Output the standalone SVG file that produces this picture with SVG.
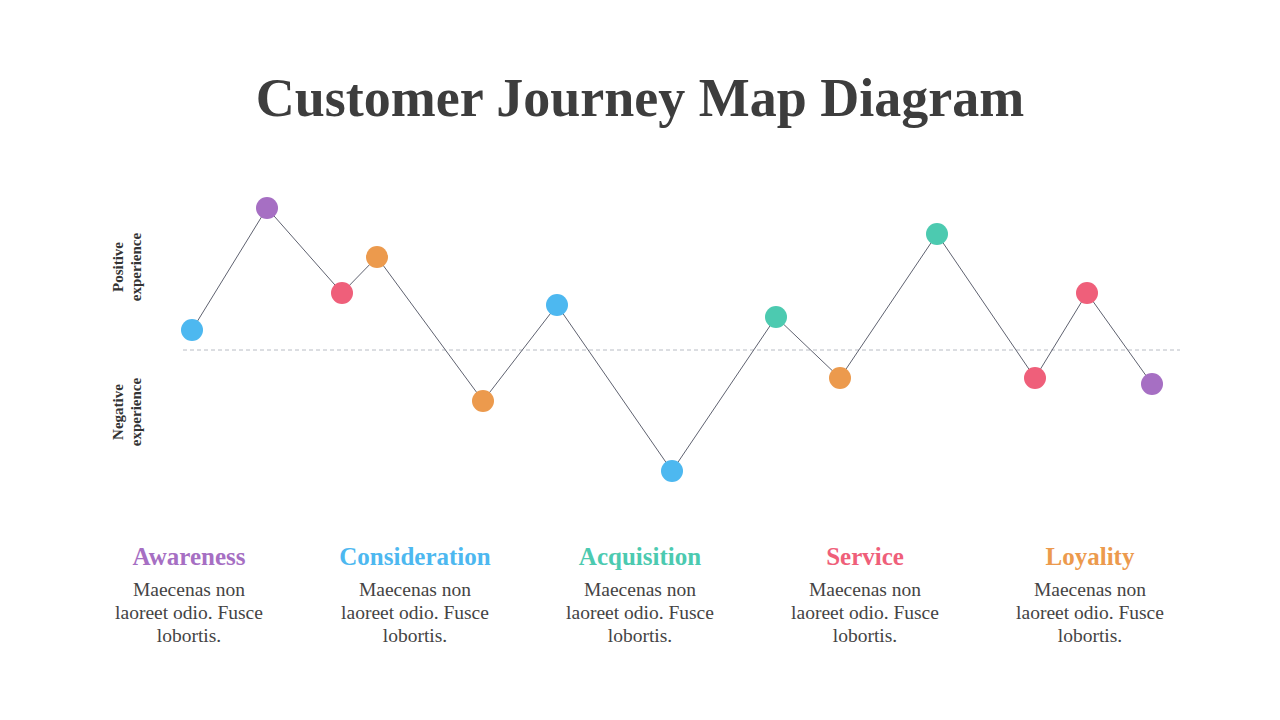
<svg xmlns="http://www.w3.org/2000/svg" width="1280" height="720" viewBox="0 0 1280 720">
<style>
.t{font-family:"Liberation Serif","DejaVu Serif",serif;}
.h{font-size:25px;font-weight:bold;text-anchor:middle}
.b{font-size:19.5px;fill:#444;text-anchor:middle}
.ax{font-size:15px;font-weight:bold;fill:#333;text-anchor:middle}
</style>
<rect width="1280" height="720" fill="#fff"/>
<text class="t" x="640" y="116" font-size="54" font-weight="bold" fill="#3d3d3d" text-anchor="middle">Customer Journey Map Diagram</text>
<g id="axis-labels">
<text class="t ax" transform="translate(123,267) rotate(-90)"><tspan x="0" y="0">Positive</tspan><tspan x="0" y="18">experience</tspan></text>
<text class="t ax" transform="translate(123,412) rotate(-90)"><tspan x="0" y="0">Negative</tspan><tspan x="0" y="18">experience</tspan></text>
</g>
<g id="connectors">
<line x1="183" y1="350" x2="1180" y2="350" stroke="#b8bcc4" stroke-width="1" stroke-dasharray="4,3"/>
<polyline points="192,330 267,208 342,293 377,257 483,401 557,305 672,471 776,317 840,378 937,234 1035,378 1087,293 1152,384" fill="none" stroke="#5f6270" stroke-width="1"/>
</g>
<g id="points">
<circle cx="192" cy="330" r="11" fill="#4db8f0"/>
<circle cx="267" cy="208" r="11" fill="#a66fc3"/>
<circle cx="342" cy="293" r="11" fill="#ef5f7a"/>
<circle cx="377" cy="257" r="11" fill="#ec9a4d"/>
<circle cx="483" cy="401" r="11" fill="#ec9a4d"/>
<circle cx="557" cy="305" r="11" fill="#4db8f0"/>
<circle cx="672" cy="471" r="11" fill="#4db8f0"/>
<circle cx="776" cy="317" r="11" fill="#4ccab0"/>
<circle cx="840" cy="378" r="11" fill="#ec9a4d"/>
<circle cx="937" cy="234" r="11" fill="#4ccab0"/>
<circle cx="1035" cy="378" r="11" fill="#ef5f7a"/>
<circle cx="1087" cy="293" r="11" fill="#ef5f7a"/>
<circle cx="1152" cy="384" r="11" fill="#a66fc3"/>
</g>
<g id="awareness"><text class="t h" x="189" y="565" fill="#a66fc3">Awareness</text>
<text class="t b" x="189" y="596">Maecenas non</text><text class="t b" x="189" y="619">laoreet odio. Fusce</text><text class="t b" x="189" y="642">lobortis.</text></g>
<g id="consideration"><text class="t h" x="415" y="565" fill="#4db8f0">Consideration</text>
<text class="t b" x="415" y="596">Maecenas non</text><text class="t b" x="415" y="619">laoreet odio. Fusce</text><text class="t b" x="415" y="642">lobortis.</text></g>
<g id="acquisition"><text class="t h" x="640" y="565" fill="#4ccab0">Acquisition</text>
<text class="t b" x="640" y="596">Maecenas non</text><text class="t b" x="640" y="619">laoreet odio. Fusce</text><text class="t b" x="640" y="642">lobortis.</text></g>
<g id="service"><text class="t h" x="865" y="565" fill="#ef5f7a">Service</text>
<text class="t b" x="865" y="596">Maecenas non</text><text class="t b" x="865" y="619">laoreet odio. Fusce</text><text class="t b" x="865" y="642">lobortis.</text></g>
<g id="loyality"><text class="t h" x="1090" y="565" fill="#ec9a4d">Loyality</text>
<text class="t b" x="1090" y="596">Maecenas non</text><text class="t b" x="1090" y="619">laoreet odio. Fusce</text><text class="t b" x="1090" y="642">lobortis.</text></g>
</svg>
